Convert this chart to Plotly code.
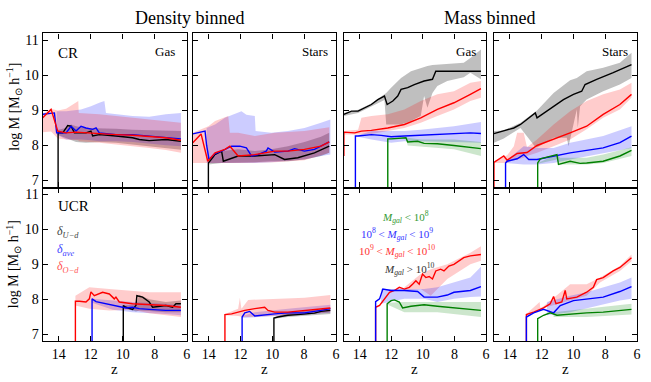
import plotly.graph_objects as go
from plotly.subplots import make_subplots

# ---- panel 1: CR, density binned, gas ----
p1_blk_z = [14.04, 14.04, 13.75, 13.44, 13.23, 13.02, 12.30, 11.99, 11.88, 11.47, 10.43, 9.39, 8.97, 8.35, 7.31, 6.37]
p1_blk_m = [6.5, 8.36, 8.36, 8.57, 8.55, 8.36, 8.36, 8.41, 8.27, 8.31, 8.27, 8.22, 8.17, 8.14, 8.17, 8.12]
p1_blk_bz = [14.04, 13.54, 13.23, 12.92, 12.30, 11.47, 10.43, 9.39, 8.35, 7.31, 6.37]
p1_blk_hi = [8.45, 8.50, 8.60, 8.55, 8.50, 8.50, 8.48, 8.45, 8.43, 8.42, 8.41]
p1_blk_lo = [8.30, 8.20, 8.15, 8.10, 8.08, 8.10, 8.08, 8.03, 7.98, 7.93, 7.88]
p1_blu_z = [15, 14.27, 14.13, 13.54, 13.23, 12.92, 12.61, 12.30, 11.88, 11.67, 11.47, 10.43, 9.39, 8.35, 7.31, 6.37]
p1_blu_m = [8.89, 8.93, 8.36, 8.36, 8.55, 8.41, 8.55, 8.50, 8.46, 8.50, 8.36, 8.31, 8.31, 8.27, 8.24, 8.19]
p1_blu_bz = [14.13, 13.54, 12.61, 11.99, 11.47, 11.15, 11.05, 10.43, 9.39, 8.35, 7.31, 6.37]
p1_blu_hi = [8.98, 8.98, 9.03, 9.12, 9.22, 9.27, 8.93, 8.89, 8.84, 8.82, 8.89, 8.93]
p1_blu_lo = [8.31, 8.17, 8.17, 8.15, 8.12, 8.12, 8.12, 8.12, 8.10, 8.06, 8.01, 7.98]
p1_red_z = [15, 14.48, 14.06, 13.54, 12.92, 11.47, 10.43, 9.39, 8.35, 7.31, 6.37]
p1_red_m = [8.79, 9.03, 8.41, 8.36, 8.38, 8.33, 8.31, 8.29, 8.25, 8.22, 8.15]
p1_red_bz = [15, 14.48, 14.06, 13.54, 12.78, 12.75, 11.47, 10.43, 9.39, 8.35, 7.31, 6.37]
p1_red_hi = [8.90, 9.05, 9.00, 9.05, 9.27, 8.93, 8.89, 8.84, 8.79, 8.74, 8.70, 8.65]
p1_red_lo = [8.38, 8.40, 8.20, 8.17, 8.15, 8.12, 8.08, 8.03, 7.98, 7.93, 7.87, 7.79]

# ---- panel 2: CR, density binned, stars ----
p2_blk_z = [14.02, 14.02, 13.60, 13.19, 13.08, 12.15, 11.10, 10.27, 9.85, 9.23, 8.40, 7.35, 6.42]
p2_blk_m = [6.5, 7.50, 7.74, 7.84, 7.55, 7.70, 7.70, 7.74, 7.74, 7.60, 7.65, 7.79, 7.98]
p2_blk_bz = [14.02, 13.19, 12.15, 11.10, 10.06, 9.02, 7.98, 6.94, 6.42]
p2_blk_hi = [7.55, 7.84, 7.89, 7.84, 7.89, 7.98, 8.10, 8.25, 8.36]
p2_blk_lo = [7.46, 7.50, 7.52, 7.52, 7.55, 7.55, 7.60, 7.70, 7.79]
p2_blu_z = [15, 14.23, 14.13, 13.98, 13.60, 13.19, 12.56, 12.04, 11.63, 11.31, 10.90, 10.38, 10.27, 9.85, 9.02, 8.60, 7.98, 7.35, 6.42]
p2_blu_m = [8.33, 8.41, 8.00, 7.60, 7.77, 7.84, 7.98, 7.98, 7.93, 7.70, 7.74, 7.84, 7.93, 7.81, 7.84, 7.91, 7.84, 7.89, 8.10]
p2_blu_bz = [14.13, 13.60, 12.98, 12.15, 11.94, 11.63, 11.10, 11.05, 10.06, 9.02, 7.98, 6.94, 6.35]
p2_blu_hi = [8.50, 8.60, 8.79, 8.93, 8.98, 8.88, 8.84, 8.41, 8.36, 8.41, 8.50, 8.65, 8.74]
p2_blu_lo = [7.50, 7.50, 7.50, 7.50, 7.50, 7.50, 7.50, 7.50, 7.52, 7.55, 7.60, 7.70, 7.74]
p2_red_z = [15, 14.48, 14.06, 13.60, 12.98, 12.67, 12.15, 11.10, 9.85, 9.02, 7.98, 6.94, 6.42]
p2_red_m = [8.08, 8.33, 7.55, 7.79, 7.89, 7.98, 7.70, 7.74, 7.84, 7.84, 7.89, 7.98, 8.10]
p2_red_bz = [15, 14.48, 14.02, 13.60, 12.77, 12.67, 12.15, 11.10, 9.85, 7.98, 6.42]
p2_red_hi = [8.36, 8.45, 8.55, 8.70, 8.84, 8.36, 8.36, 8.27, 8.36, 8.41, 8.52]
p2_red_lo = [7.50, 7.50, 7.50, 7.50, 7.50, 7.50, 7.50, 7.50, 7.52, 7.58, 7.79]

# ---- panel 3: CR, mass binned, gas ----
p3_blk_z = [15, 14.52, 14.10, 13.68, 13.26, 12.85, 12.43, 12.26, 11.90, 11.59, 11.38, 10.96, 10.54, 9.92, 9.39, 9.18, 8.45, 7.41, 6.32]
p3_blk_m = [8.89, 8.98, 8.98, 9.08, 9.17, 9.31, 9.41, 9.17, 9.27, 9.41, 9.60, 9.65, 9.74, 9.84, 9.89, 10.12, 10.12, 10.14, 10.12]
p3_blk_bz = [15, 14.10, 13.26, 12.43, 12.32, 12.01, 11.38, 10.75, 10.13, 9.92, 9.71, 9.39, 9.08, 8.45, 7.41, 6.99, 6.32]
p3_blk_hi = [8.93, 9.02, 9.20, 9.45, 9.50, 9.65, 9.93, 10.12, 10.22, 10.25, 10.27, 10.30, 10.31, 10.33, 10.36, 10.50, 10.74]
p3_blk_lo = [8.84, 8.93, 9.12, 9.30, 8.60, 8.60, 8.60, 8.70, 8.84, 9.41, 9.08, 9.50, 9.70, 9.84, 9.95, 10.08, 9.89]
p3_blu_z = [14.27, 14.27, 14.10, 13.26, 12.64, 12.01, 11.17, 10.13, 9.08, 8.03, 6.99, 6.32]
p3_blu_m = [6.5, 8.27, 8.27, 8.31, 8.29, 8.25, 8.27, 8.29, 8.31, 8.33, 8.36, 8.34]
p3_blu_bz = [14.10, 13.26, 12.01, 11.17, 10.13, 9.08, 8.03, 6.32]
p3_blu_hi = [8.29, 8.41, 8.41, 8.41, 8.45, 8.50, 8.55, 8.67]
p3_blu_lo = [8.25, 8.17, 8.08, 8.12, 8.12, 8.12, 8.10, 8.08]
p3_red_z = [15, 15, 14.31, 13.89, 13.26, 12.22, 11.17, 10.13, 9.08, 8.03, 6.99, 6.32]
p3_red_m = [7.70, 8.38, 8.36, 8.41, 8.43, 8.50, 8.60, 8.79, 9.03, 9.22, 9.46, 9.62]
p3_red_bz = [15, 14.10, 13.89, 13.26, 12.22, 11.17, 10.13, 9.08, 8.03, 6.99, 6.32]
p3_red_hi = [8.41, 8.45, 8.79, 8.84, 8.89, 9.03, 9.27, 9.46, 9.55, 9.79, 9.84]
p3_red_lo = [8.31, 8.31, 8.31, 8.33, 8.41, 8.50, 8.65, 8.84, 9.03, 9.27, 9.36]
p3_grn_z = [12.22, 12.22, 12.01, 11.07, 10.96, 10.33, 9.92, 9.08, 8.03, 6.99, 6.32]
p3_grn_m = [6.5, 8.19, 8.19, 8.22, 8.10, 8.12, 8.06, 8.05, 8.00, 7.95, 7.91]
p3_grn_bz = [12.22, 11.07, 10.96, 10.13, 8.03, 6.32]
p3_grn_hi = [8.20, 8.22, 8.22, 8.17, 8.17, 8.10]
p3_grn_lo = [8.17, 8.19, 8.00, 7.98, 7.89, 7.70]

# ---- panel 4: CR, mass binned, stars ----
p4_blk_z = [15, 14.38, 13.75, 13.33, 12.92, 12.40, 12.29, 11.67, 11.25, 10.63, 10.00, 9.48, 9.27, 8.54, 7.50, 6.35]
p4_blk_m = [8.34, 8.41, 8.50, 8.60, 8.74, 8.93, 8.79, 8.98, 9.12, 9.31, 9.46, 9.55, 9.74, 9.89, 10.08, 10.31]
p4_blk_bz = [15, 14.38, 13.33, 12.40, 12.29, 11.25, 10.42, 10.31, 10.21, 9.79, 9.73, 9.58, 9.17, 8.13, 7.08, 6.35]
p4_blk_hi = [8.41, 8.43, 8.65, 8.98, 9.00, 9.50, 9.79, 9.84, 9.86, 9.93, 9.95, 10.00, 10.12, 10.22, 10.36, 10.65]
p4_blk_lo = [8.08, 8.20, 8.50, 7.96, 7.94, 8.22, 8.22, 7.98, 8.17, 9.03, 8.50, 9.12, 9.31, 9.55, 9.74, 9.93]
p4_blu_z = [14.27, 14.27, 14.17, 13.54, 13.13, 12.81, 12.29, 11.25, 10.21, 9.17, 8.13, 7.08, 6.35]
p4_blu_m = [6.5, 7.50, 7.55, 7.62, 7.74, 7.60, 7.60, 7.70, 7.79, 7.86, 7.93, 8.08, 8.27]
p4_blu_bz = [14.27, 13.13, 12.29, 11.25, 10.21, 9.17, 8.13, 6.35]
p4_blu_hi = [7.55, 7.98, 7.93, 7.93, 8.08, 8.17, 8.27, 8.55]
p4_blu_lo = [7.50, 7.46, 7.46, 7.50, 7.60, 7.70, 7.78, 7.93]
p4_red_z = [15, 15, 14.38, 14.17, 13.54, 12.92, 12.29, 11.25, 10.21, 9.17, 8.13, 7.08, 6.35]
p4_red_m = [6.5, 7.52, 7.70, 7.58, 7.77, 7.80, 8.00, 8.17, 8.36, 8.55, 8.89, 9.17, 9.46]
p4_red_bz = [15, 14.17, 13.75, 13.54, 13.13, 12.92, 12.29, 11.25, 10.21, 9.17, 8.13, 7.08, 6.35]
p4_red_hi = [7.55, 7.72, 7.98, 8.36, 8.36, 7.95, 8.17, 8.60, 8.98, 9.27, 9.46, 9.60, 9.79]
p4_red_lo = [7.50, 7.50, 7.60, 7.60, 7.65, 7.70, 7.79, 7.98, 8.17, 8.46, 8.79, 9.03, 9.36]
p4_grn_z = [12.25, 12.25, 12.08, 11.25, 11.04, 10.94, 10.21, 9.58, 9.17, 8.13, 7.08, 6.35]
p4_grn_m = [6.5, 7.50, 7.62, 7.70, 7.74, 7.46, 7.55, 7.49, 7.50, 7.55, 7.70, 7.86]
p4_grn_bz = [12.25, 11.04, 10.83, 9.17, 8.13, 6.35]
p4_grn_hi = [7.50, 7.74, 7.65, 7.65, 7.74, 7.95]
p4_grn_lo = [7.48, 7.60, 7.46, 7.46, 7.50, 7.70]

# ---- panel 5: UCR, density binned, gas ----
p5_blk_z = [9.97, 9.97, 9.80, 9.39, 9.18, 9.12, 8.76, 8.35, 8.14, 7.31, 6.89, 6.68, 6.37]
p5_blk_m = [6.5, 7.82, 7.77, 7.71, 7.82, 8.10, 8.06, 7.92, 7.77, 7.82, 7.77, 7.87, 7.87]
p5_blk_bz = [9.97, 9.18, 8.97, 8.35, 7.31, 6.37]
p5_blk_hi = [7.82, 7.85, 8.12, 8.00, 7.92, 7.96]
p5_blk_lo = [7.75, 7.65, 7.68, 7.66, 7.63, 7.63]
p5_blu_z = [11.92, 11.92, 11.67, 11.05, 10.63, 10.22, 9.80, 9.39, 8.97, 8.35, 7.72, 7.31, 6.37]
p5_blu_m = [6.5, 8.01, 7.93, 7.87, 7.82, 7.77, 7.75, 7.77, 7.73, 7.71, 7.68, 7.68, 7.68]
p5_blu_bz = [11.92, 10.63, 9.39, 7.31, 6.37]
p5_blu_hi = [8.01, 7.96, 7.92, 7.87, 7.82]
p5_blu_lo = [7.90, 7.70, 7.63, 7.58, 7.54]
p5_red_z = [12.96, 12.96, 12.71, 12.30, 12.09, 11.99, 11.78, 11.26, 10.84, 10.63, 10.53, 10.43, 10.22, 9.39, 8.35, 7.31, 6.37]
p5_red_m = [6.5, 7.94, 7.94, 7.92, 8.01, 8.21, 8.10, 8.20, 8.15, 8.06, 8.01, 8.06, 7.92, 7.87, 7.84, 7.82, 7.77]
p5_red_bz = [12.96, 12.09, 10.84, 9.39, 8.35, 6.37]
p5_red_hi = [8.10, 8.34, 8.29, 8.25, 8.20, 8.20]
p5_red_lo = [7.82, 7.73, 7.68, 7.70, 7.60, 7.49]

# ---- panel 6: UCR, density binned, stars ----
p6_blk_z = [9.90, 9.90, 9.65, 9.02, 8.40, 7.98, 7.35, 6.94, 6.35]
p6_blk_m = [6.5, 7.46, 7.49, 7.54, 7.56, 7.58, 7.60, 7.65, 7.68]
p6_blk_bz = [9.90, 9.02, 6.35]
p6_blk_hi = [7.48, 7.61, 7.75]
p6_blk_lo = [7.44, 7.49, 7.58]
p6_blu_z = [11.90, 11.90, 11.73, 11.42, 11.10, 10.48, 9.85, 9.02, 7.98, 6.94, 6.35]
p6_blu_m = [6.5, 7.49, 7.61, 7.65, 7.52, 7.54, 7.58, 7.61, 7.61, 7.68, 7.73]
p6_blu_bz = [11.90, 11.10, 9.02, 6.35]
p6_blu_hi = [7.52, 7.63, 7.73, 7.84]
p6_blu_lo = [7.46, 7.49, 7.54, 7.61]
p6_red_z = [12.98, 12.98, 12.56, 12.15, 11.73, 11.10, 10.48, 10.27, 9.85, 9.02, 7.98, 6.94, 6.35]
p6_red_m = [6.5, 7.56, 7.58, 7.63, 7.68, 7.73, 7.77, 7.68, 7.63, 7.63, 7.68, 7.73, 7.75]
p6_red_bz = [12.98, 12.15, 12.04, 11.94, 11.52, 10.06, 9.02, 7.98, 6.35]
p6_red_hi = [7.58, 7.73, 8.04, 7.73, 7.98, 8.01, 8.01, 8.04, 8.12]
p6_red_lo = [7.54, 7.52, 7.50, 7.50, 7.49, 7.50, 7.54, 7.56, 7.63]

# ---- panel 7: UCR, mass binned, gas ----
p7_blu_z = [12.99, 12.99, 12.74, 12.53, 12.01, 11.17, 10.33, 9.92, 9.08, 8.45, 8.03, 6.99, 6.32]
p7_blu_m = [6.5, 7.93, 8.01, 8.29, 8.25, 8.25, 8.22, 8.06, 8.06, 8.12, 8.20, 8.25, 8.36]
p7_blu_bz = [12.64, 11.17, 9.92, 9.08, 8.03, 6.99, 6.32]
p7_blu_hi = [8.29, 8.29, 8.29, 8.34, 8.48, 8.62, 8.93]
p7_blu_lo = [7.87, 8.01, 8.01, 7.92, 8.01, 8.06, 8.08]
p7_red_z = [12.99, 12.99, 12.74, 12.43, 12.11, 11.80, 11.49, 11.17, 10.86, 10.65, 10.44, 10.23, 10.02, 9.81, 9.60, 9.39, 9.18, 8.87, 8.66, 8.35, 8.03, 7.41, 6.99, 6.32]
p7_red_m = [6.5, 7.77, 7.82, 8.01, 8.20, 8.25, 8.34, 8.29, 8.34, 8.43, 8.53, 8.43, 8.72, 8.62, 8.65, 8.58, 8.81, 8.86, 8.81, 8.95, 9.00, 9.19, 9.24, 9.28]
p7_red_bz = [11.17, 10.13, 9.50, 9.08, 8.45, 6.99, 6.32]
p7_red_hi = [8.34, 8.72, 8.86, 8.91, 9.00, 9.33, 9.52]
p7_red_lo = [8.25, 8.29, 8.10, 8.29, 8.58, 9.00, 9.10]
p7_grn_z = [12.26, 12.26, 12.01, 11.80, 11.49, 11.28, 10.75, 9.92, 9.08, 8.03, 6.99, 6.32]
p7_grn_m = [6.5, 7.87, 7.96, 7.98, 7.92, 7.75, 7.80, 7.84, 7.80, 7.75, 7.71, 7.68]
p7_grn_bz = [12.26, 11.17, 9.08, 6.32]
p7_grn_hi = [7.90, 7.92, 7.92, 7.92]
p7_grn_lo = [7.85, 7.63, 7.63, 7.49]

# ---- panel 8: UCR, mass binned, stars ----
p8_blu_z = [12.96, 12.96, 12.50, 11.88, 11.25, 10.83, 10.00, 9.17, 8.13, 7.08, 6.35]
p8_blu_m = [6.5, 7.49, 7.61, 7.71, 7.61, 7.82, 7.96, 8.01, 8.06, 8.22, 8.36]
p8_blu_bz = [11.67, 10.21, 9.17, 7.08, 6.35]
p8_blu_hi = [7.92, 8.10, 8.20, 8.48, 8.62]
p8_blu_lo = [7.54, 7.63, 7.73, 7.96, 8.01]
p8_red_z = [12.96, 12.96, 12.50, 11.88, 11.46, 11.25, 11.10, 10.73, 10.52, 10.42, 9.79, 9.17, 8.75, 8.54, 8.13, 7.50, 7.08, 6.35]
p8_red_m = [6.5, 7.56, 7.63, 7.75, 7.87, 8.08, 7.87, 7.92, 8.25, 8.01, 8.06, 8.20, 8.34, 8.56, 8.62, 8.81, 8.91, 9.19]
p8_red_bz = [12.96, 12.13, 12.08, 11.88, 10.21, 9.17, 8.33, 7.08, 6.35]
p8_red_hi = [7.58, 7.92, 7.75, 7.80, 8.43, 8.43, 8.62, 8.95, 9.28]
p8_red_lo = [7.54, 7.70, 7.70, 7.75, 7.96, 8.10, 8.48, 8.81, 9.09]
p8_grn_z = [12.25, 12.25, 11.88, 11.46, 11.04, 10.21, 9.17, 8.13, 7.08, 6.35]
p8_grn_m = [6.5, 7.44, 7.54, 7.61, 7.54, 7.58, 7.61, 7.63, 7.68, 7.71]
p8_grn_bz = [11.25, 9.17, 6.35]
p8_grn_hi = [7.63, 7.73, 7.87]
p8_grn_lo = [7.49, 7.49, 7.56]

x_ticks = [14, 12, 10, 8, 6]
y_ticks = [7, 8, 9, 10, 11]

LINE = {"blk": "#000000", "blu": "#0000ff", "red": "#ff0000", "grn": "#008000"}
FILL = {"blk": "rgba(0,0,0,0.25)", "blu": "rgba(0,0,255,0.2)",
        "red": "rgba(255,0,0,0.2)", "grn": "rgba(0,128,0,0.2)"}

g = globals()
panels = [
    (1, 1, 1, ["blk", "blu", "red"]),
    (1, 2, 2, ["blk", "blu", "red"]),
    (1, 3, 3, ["blk", "red", "blu", "grn"]),
    (1, 4, 4, ["blk", "red", "blu", "grn"]),
    (2, 1, 5, ["blk", "blu", "red"]),
    (2, 2, 6, ["blk", "blu", "red"]),
    (2, 3, 7, ["red", "blu", "grn"]),
    (2, 4, 8, ["red", "blu", "grn"]),
]

fig = make_subplots(rows=2, cols=4)

for row, col, p, keys in panels:
    # shaded ranges first, medians on top
    for k in keys:
        bz = g[f"p{p}_{k}_bz"]
        hi = g[f"p{p}_{k}_hi"]
        lo = g[f"p{p}_{k}_lo"]
        fig.add_trace(go.Scatter(x=bz + bz[::-1], y=hi + lo[::-1], fill="toself",
                                 fillcolor=FILL[k], line=dict(width=0), mode="lines",
                                 hoverinfo="skip", showlegend=False), row=row, col=col)
    for k in keys:
        fig.add_trace(go.Scatter(x=g[f"p{p}_{k}_z"], y=g[f"p{p}_{k}_m"], mode="lines",
                                 line=dict(color=LINE[k], width=1.4),
                                 showlegend=False), row=row, col=col)

W, H = 651, 382
xdom = [(43, 188), (194, 338), (346, 489), (497, 641)]
ydom = [(33.5, 188), (188, 342)]
serif = "Liberation Serif"


def px(x):
    return x / W


def py(y):
    return 1 - y / H


for i in range(8):
    r, c = divmod(i, 4)
    sfx = "" if i == 0 else str(i + 1)
    x0, x1 = xdom[c]
    y0, y1 = ydom[r]
    fig.layout["xaxis" + sfx].update(
        domain=[px(x0), px(x1)], range=[15, 6], tickvals=x_ticks,
        showticklabels=(r == 1), ticks="inside", ticklen=5, tickcolor="black",
        showline=True, linecolor="black", linewidth=1.3, mirror="ticks",
        showgrid=False, zeroline=False, tickfont=dict(size=14, family=serif, color="black"))
    fig.layout["yaxis" + sfx].update(
        domain=[py(y1), py(y0)], range=[6.8, 11.2], tickvals=y_ticks,
        showticklabels=(c == 0), ticks="inside", ticklen=5, tickcolor="black",
        showline=True, linecolor="black", linewidth=1.3, mirror="ticks",
        showgrid=False, zeroline=False, tickfont=dict(size=14, family=serif, color="black"))


def note(x, y, text, size=14, color="black", anchor="center", angle=0):
    fig.add_annotation(x=px(x), y=py(y), xref="paper", yref="paper", text=text,
                       showarrow=False, xanchor=anchor, yanchor="middle", textangle=angle,
                       font=dict(family=serif, size=size, color=color))


note(191, 18, "Density binned", 18)
note(493, 18, "Mass binned", 18)
for c in range(4):
    note((xdom[c][0] + xdom[c][1]) / 2, 370, "z", 15)
note(14, 107, "log M [M<sub>⊙</sub> h<sup>−1</sup>]", 14, angle=-90)
note(14, 265, "log M [M<sub>⊙</sub> h<sup>−1</sup>]", 14, angle=-90)

note(68, 53, "CR", 15)
note(178, 52, "Gas", 13, anchor="right")
note(332, 52, "Stars", 13, anchor="right")
note(481, 52, "Gas", 13, anchor="right")
note(634, 52, "Stars", 13, anchor="right")
note(74, 207, "UCR", 15)

note(55, 233, "<i>δ</i><sub><i>U−d</i></sub>", 12, "#444444", "left")
note(55, 251, "<i>δ</i><sub><i>ave</i></sub>", 12, "#4444ff", "left")
note(55, 268, "<i>δ</i><sub><i>O−d</i></sub>", 12, "#ff5555", "left")

note(434, 218, "<i>M<sub>gal</sub></i> &lt; 10<sup>8</sup>", 11, "#339933", "right")
note(438, 235, "10<sup>8</sup> &lt; <i>M<sub>gal</sub></i> &lt; 10<sup>9</sup>", 11, "#3333ff", "right")
note(440, 252, "10<sup>9</sup> &lt; <i>M<sub>gal</sub></i> &lt; 10<sup>10</sup>", 11, "#ff3333", "right")
note(440, 270, "<i>M<sub>gal</sub></i> &gt; 10<sup>10</sup>", 11, "#333333", "right")

fig.update_layout(width=W, height=H, margin=dict(l=0, r=0, t=0, b=0),
                  plot_bgcolor="white", paper_bgcolor="white",
                  font=dict(family=serif, color="black"), showlegend=False)

# drop the browser's default 8px body margin so the figure sits at the page corner
fig.write_html("out.html", config={"displayModeBar": False},
               post_script="document.body.style.margin='0';")
